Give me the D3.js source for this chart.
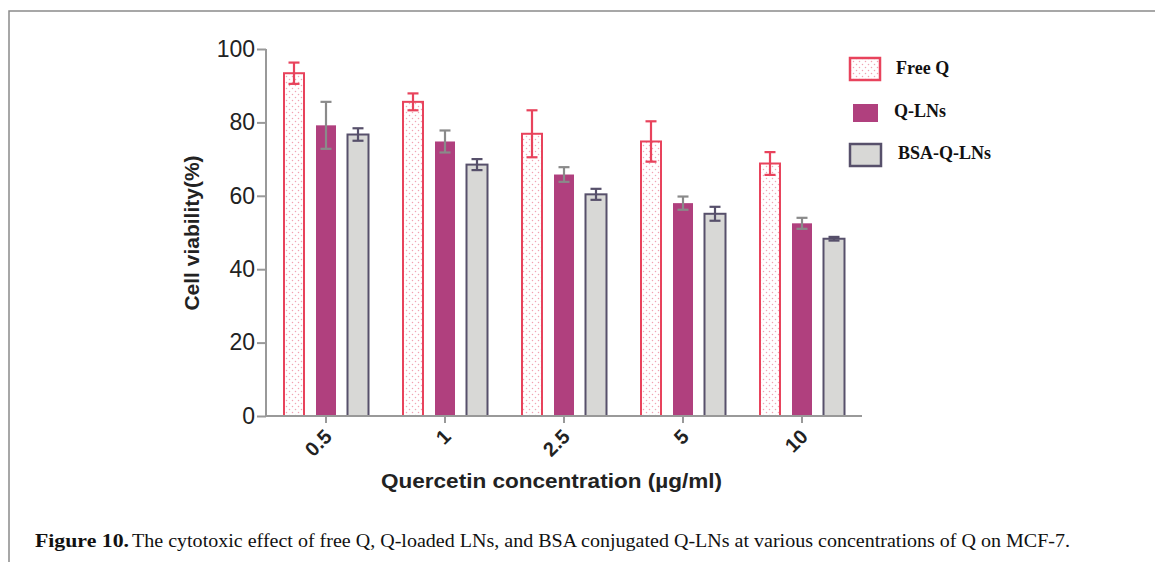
<!DOCTYPE html>
<html><head><meta charset="utf-8">
<script src="https://cdn.jsdelivr.net/npm/d3@7"></script>
<style>body{margin:0;background:#fff}svg{display:block}</style>
</head><body>
<svg id="chart" width="1155" height="562"></svg>
<script>
const categories = ["0.5", "1", "2.5", "5", "10"];
const seriesNames = ["Free Q", "Q-LNs", "BSA-Q-LNs"];
const freeQ = [93.4, 85.6, 76.9, 74.8, 68.8];
const freeQErr = [2.9, 2.3, 6.4, 5.5, 3.1];
const qLNs = [79.2, 74.8, 65.8, 58.0, 52.5];
const qLNsErr = [6.4, 3.0, 2.0, 1.8, 1.5];
const bsaQLNs = [76.7, 68.5, 60.4, 55.1, 48.3];
const bsaQLNsErr = [1.7, 1.5, 1.5, 1.9, 0.5];
const yTicks = [0, 20, 40, 60, 80, 100];

const svg = d3.select("#chart");
const defs = svg.append("defs");
const pat = defs.append("pattern").attr("id","dots").attr("patternUnits","userSpaceOnUse")
  .attr("width",6).attr("height",6);
pat.append("rect").attr("width",6).attr("height",6).attr("fill","#fff");
pat.append("circle").attr("cx",1.5).attr("cy",1.5).attr("r",0.75).attr("fill","#f1a3b3");
pat.append("circle").attr("cx",4.5).attr("cy",4.5).attr("r",0.75).attr("fill","#f1a3b3");

// frame
svg.append("path").attr("d","M9,562 V11 H1155").attr("fill","none").attr("stroke","#8a8a8a").attr("stroke-width",1.5);

const x0 = d3.scaleBand().domain(categories).range([266.5, 861.5]).paddingInner(0).paddingOuter(0);
const x1 = d3.scaleBand().domain(seriesNames).range([-48, 48]).padding(0);
const y = d3.scaleLinear().domain([0, 100]).range([416, 49]);

const series = [
  {name:"Free Q", vals:freeQ, errs:freeQErr, fill:"url(#dots)", stroke:"#e8435c", sw:2, w:20, err:"#e8435c"},
  {name:"Q-LNs", vals:qLNs, errs:qLNsErr, fill:"#b0407e", stroke:"none", sw:0, w:20, err:"#8a8a8a"},
  {name:"BSA-Q-LNs", vals:bsaQLNs, errs:bsaQLNsErr, fill:"#d8d8d6", stroke:"#57506b", sw:2, w:21, err:"#57506b"}
];

// axes
const yAxis = d3.axisLeft(y).tickValues(yTicks).tickSize(9).tickPadding(2);
const gy = svg.append("g").attr("transform","translate(266,0)").call(yAxis);
gy.select(".domain").attr("stroke","#999").attr("stroke-width",2).attr("d","M0,49V416");
gy.selectAll(".tick line").attr("stroke","#999").attr("stroke-width",2);
gy.selectAll(".tick text").attr("font-family","Liberation Sans, Arial, sans-serif").attr("font-size",23).attr("fill","#222");

series.forEach((s, si) => {
  const g = svg.append("g");
  categories.forEach((c, i) => {
    const cx = x0(c) + x0.bandwidth()/2 + x1(s.name) + x1.bandwidth()/2;
    const top = y(s.vals[i]);
    g.append("rect").attr("x", cx - s.w/2).attr("y", top)
      .attr("width", s.w).attr("height", y(0) - top)
      .attr("fill", s.fill).attr("stroke", s.stroke).attr("stroke-width", s.sw);
    const eHi = y(s.vals[i] + s.errs[i]), eLo = y(s.vals[i] - s.errs[i]);
    g.append("line").attr("x1",cx).attr("x2",cx).attr("y1",eHi).attr("y2",eLo)
      .attr("stroke",s.err).attr("stroke-width",2.2);
    [eHi, eLo].forEach(yy => g.append("line").attr("x1",cx-5.5).attr("x2",cx+5.5).attr("y1",yy).attr("y2",yy)
      .attr("stroke",s.err).attr("stroke-width",2.2));
  });
});

const xAxis = d3.axisBottom(x0).tickSize(7).tickPadding(2);
const gx = svg.append("g").attr("transform","translate(0,416)").call(xAxis);
gx.select(".domain").attr("stroke","#999").attr("stroke-width",2).attr("d","M266,0H862");
gx.selectAll(".tick line").attr("stroke","#999").attr("stroke-width",2);
gx.selectAll(".tick text").attr("font-family","Liberation Sans, Arial, sans-serif").attr("font-size",20)
  .attr("font-weight","bold").attr("fill","#222").attr("text-anchor","end").attr("dy",0).attr("x",0).attr("y",0)
  .attr("transform","translate(7,22) rotate(-45)");

// axis titles
svg.append("text").attr("transform","translate(199,233) rotate(-90)").attr("text-anchor","middle")
  .attr("font-family","Liberation Sans, Arial, sans-serif").attr("font-weight","bold").attr("font-size",21)
  .attr("fill","#222").text("Cell viability(%)");
svg.append("text").attr("x",381).attr("y",488)
  .attr("font-family","Liberation Sans, Arial, sans-serif").attr("font-weight","bold").attr("font-size",20.5)
  .attr("fill","#222").attr("textLength",341).attr("lengthAdjust","spacingAndGlyphs")
  .text("Quercetin concentration (µg/ml)");

// legend
const legend = [
  {name:"Free Q", x:850, y:58, w:30, h:22, fill:"url(#dots)", stroke:"#e8435c", sw:2.5, tx:896, ty:74},
  {name:"Q-LNs", x:853, y:104, w:25, h:18, fill:"#b0407e", stroke:"none", sw:0, tx:894, ty:117},
  {name:"BSA-Q-LNs", x:850, y:144, w:31, h:22, fill:"#d8d8d6", stroke:"#57506b", sw:2.5, tx:898, ty:159}
];
const lg = svg.append("g");
legend.forEach(d => {
  lg.append("rect").attr("x",d.x).attr("y",d.y).attr("width",d.w).attr("height",d.h)
    .attr("fill",d.fill).attr("stroke",d.stroke).attr("stroke-width",d.sw);
  lg.append("text").attr("x",d.tx).attr("y",d.ty).attr("font-family","Liberation Serif, Times New Roman, serif")
    .attr("font-weight","bold").attr("font-size",18).attr("fill","#111").text(d.name);
});

// caption
svg.append("text").attr("x",35).attr("y",547).attr("font-family","Liberation Serif, Times New Roman, serif")
  .attr("font-size",19).attr("font-weight","bold").attr("fill","#111")
  .attr("textLength",94).attr("lengthAdjust","spacingAndGlyphs").text("Figure 10.");
svg.append("text").attr("x",132).attr("y",547).attr("font-family","Liberation Serif, Times New Roman, serif")
  .attr("font-size",19).attr("fill","#111")
  .attr("textLength",938).attr("lengthAdjust","spacingAndGlyphs")
  .text("The cytotoxic effect of free Q, Q-loaded LNs, and BSA conjugated Q-LNs at various concentrations of Q on MCF-7.");
</script>
</body></html>
